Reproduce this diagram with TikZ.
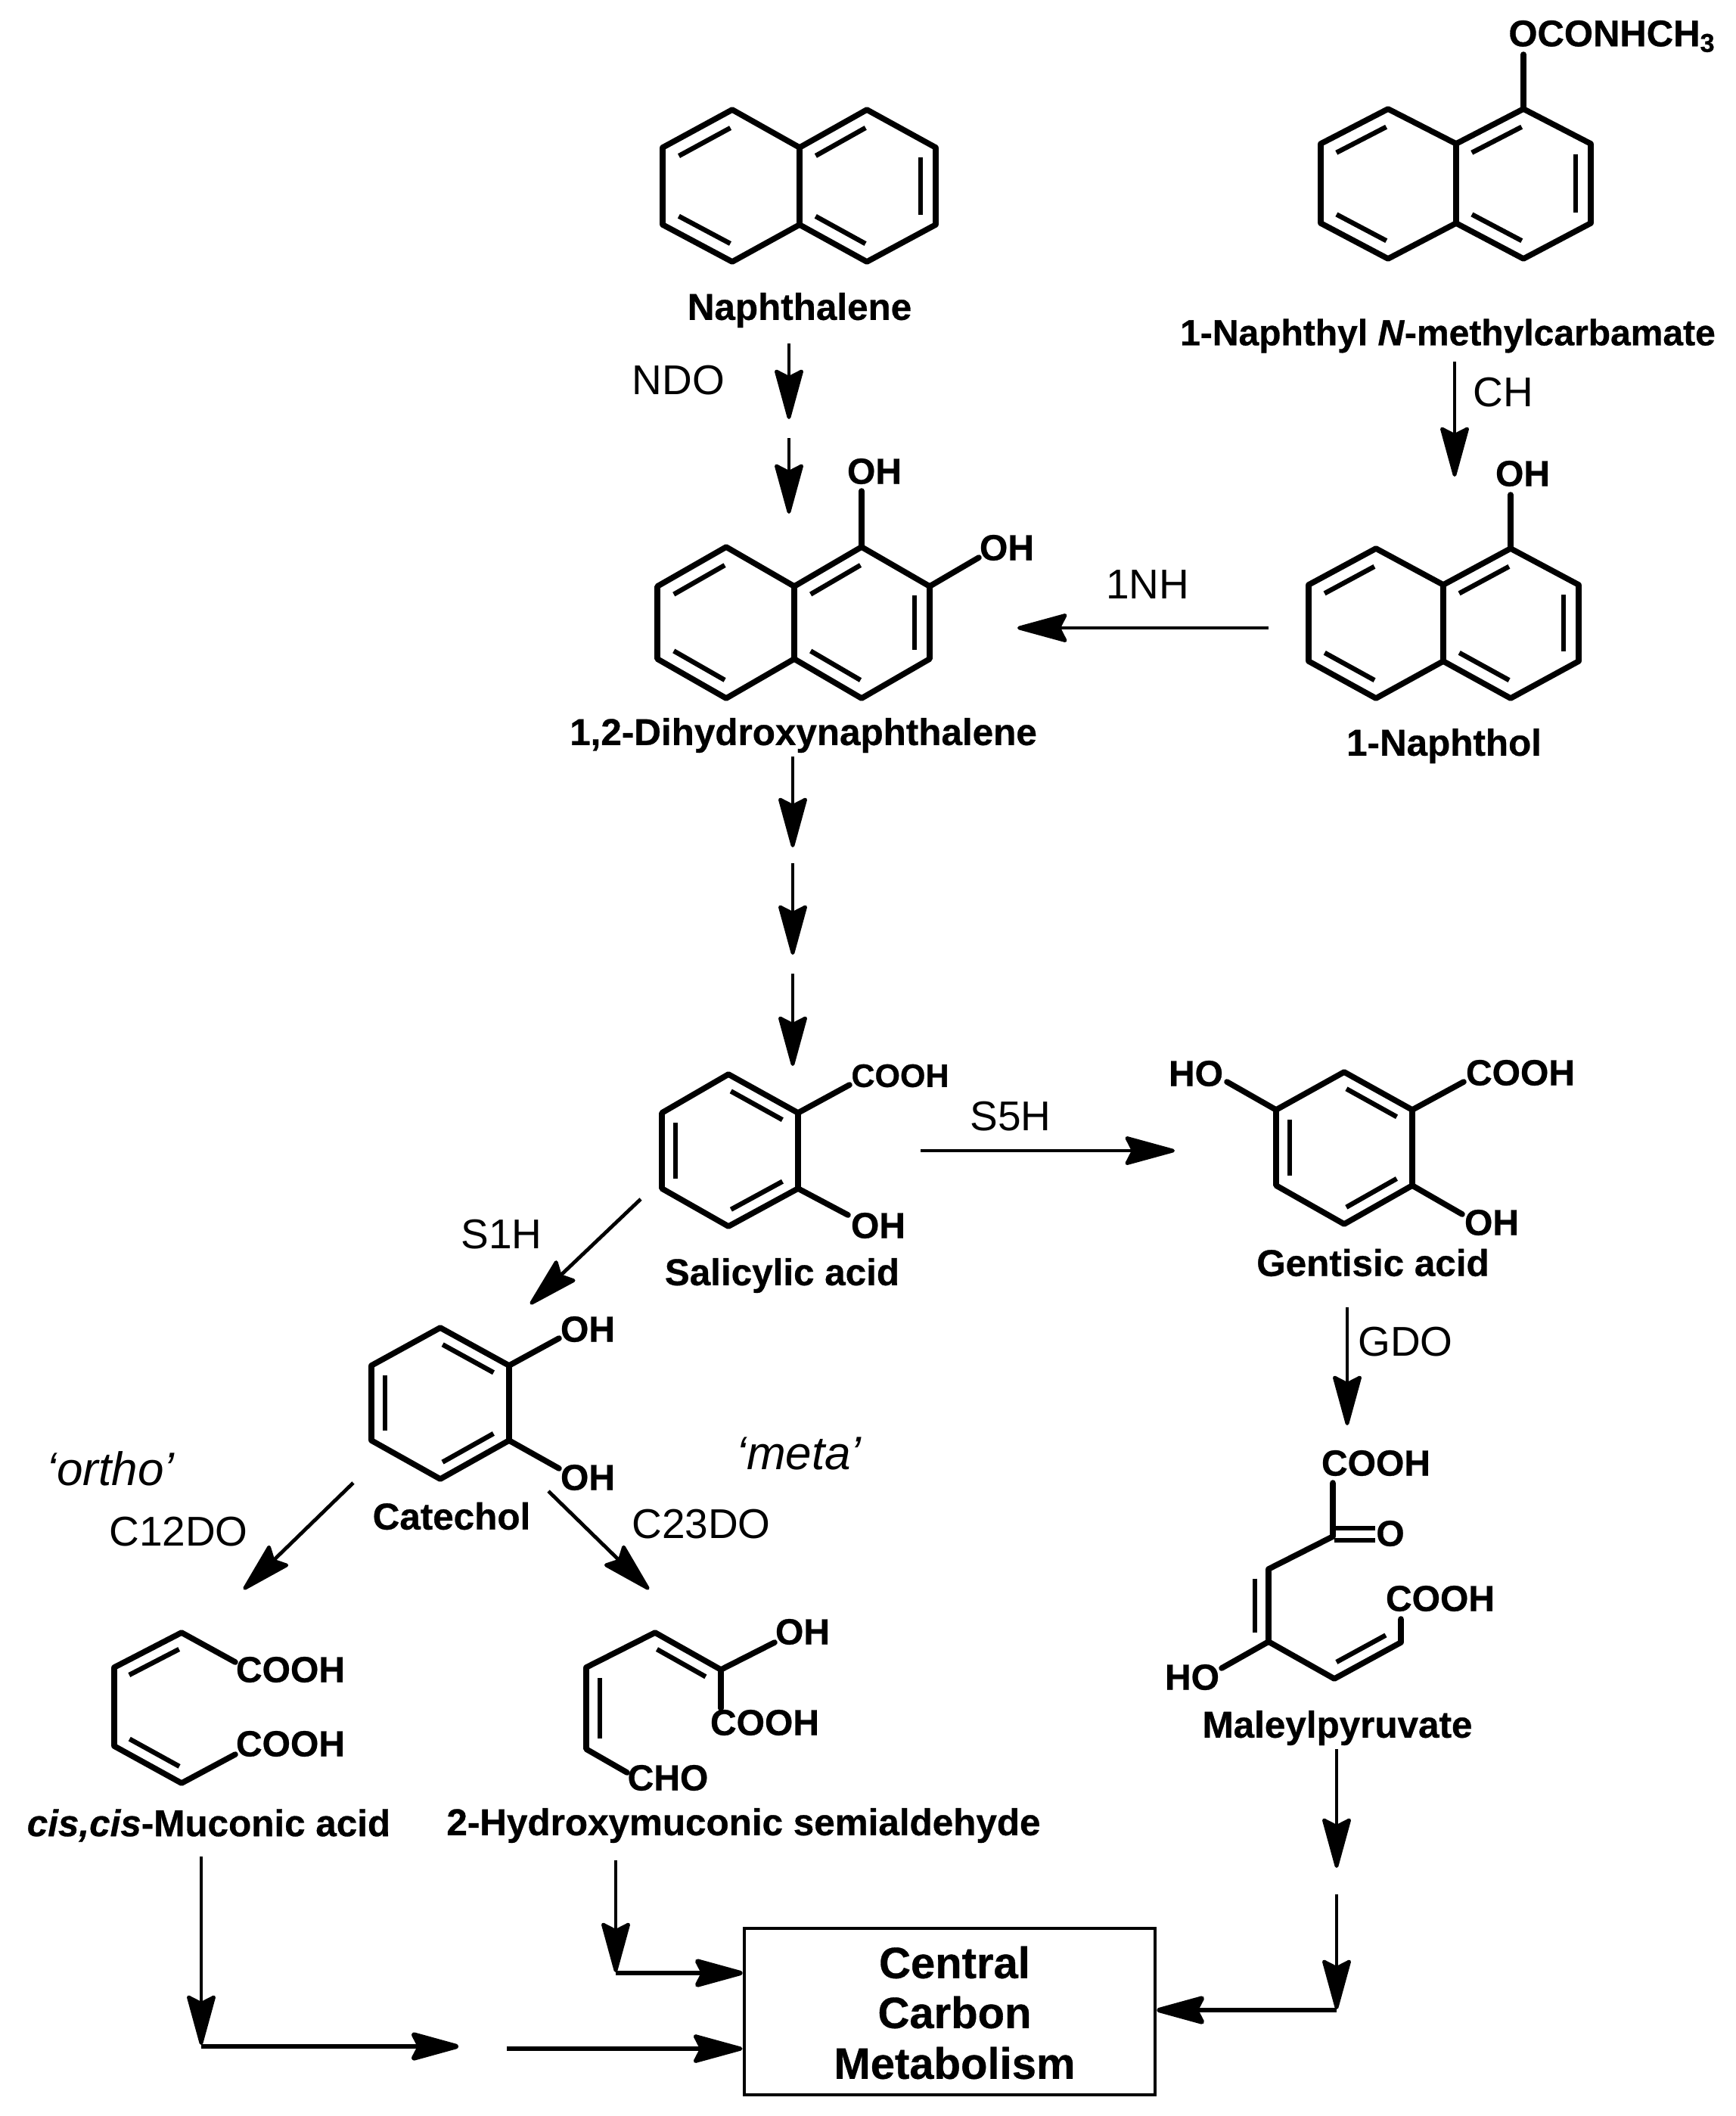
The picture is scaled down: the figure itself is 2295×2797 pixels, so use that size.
\documentclass[tikz,border=0pt]{standalone}
\usepackage{fontspec}
\setmainfont{Liberation Sans}[BoldFeatures={FakeBold=0.6},BoldItalicFeatures={FakeBold=0.6}]
\usetikzlibrary{arrows.meta,calc}
\tikzset{
  bond/.style={line width=3.8pt,line cap=round,line join=miter,black},
  ibond/.style={line width=3.2pt,line cap=butt,black},
  arr/.style={line width=2.4pt,black,-{Stealth[length=37pt,width=20pt,inset=5pt,round=false]}},
  lab/.style={inner sep=0pt,yshift=-2pt,font=\fontsize{24.7}{24.7}\selectfont\bfseries},
  labc/.style={inner sep=0pt,yshift=-2pt,font=\fontsize{24}{24}\selectfont\bfseries},
  frm/.style={inner sep=0pt,font=\fontsize{24}{24}\selectfont\bfseries},
  frms/.style={inner sep=0pt,font=\fontsize{21.5}{24}\selectfont\bfseries},
  enz/.style={inner sep=0pt,font=\fontsize{27.5}{27.5}\selectfont},
  mode/.style={inner sep=0pt,font=\fontsize{31}{31}\selectfont\itshape},
  cen/.style={inner sep=0pt,font=\fontsize{29}{29}\selectfont\bfseries},
}
% hexagon: name, x left/mid/right, y top/upper/lower/bottom
\newcommand{\hexring}[8]{%
  \coordinate (#1a) at (#2,#6);
  \coordinate (#1b) at (#3,#5);
  \coordinate (#1c) at (#4,#6);
  \coordinate (#1d) at (#4,#7);
  \coordinate (#1e) at (#3,#8);
  \coordinate (#1f) at (#2,#7);
  \draw[bond,line join=round] (#1a)--(#1b)--(#1c)--(#1d)--(#1e)--(#1f)--cycle;
}
% inner line of a double bond; third argument gives the side and offset
\newcommand{\dbl}[3]{%
  \draw[ibond] ($(#1)!.13!(#2)!#3!90:(#2)$) -- ($(#2)!.13!(#1)!#3!-90:(#1)$);
}
\begin{document}
\begin{tikzpicture}[x=0.5pt,y=-0.5pt]
\useasboundingbox (0,0) rectangle (2295,2797);
\fill[white] (0,0) rectangle (2295,2797);

% Naphthalene
\hexring{na}{876}{968}{1057}{145}{195}{297}{346}
\hexring{nb}{1057}{1146}{1237}{145}{195}{297}{346}
\dbl{naa}{nab}{-10pt}\dbl{nae}{naf}{-10pt}
\dbl{nbb}{nba}{10pt}\dbl{nbc}{nbd}{-10pt}\dbl{nbe}{nbf}{-10pt}
\node[lab] (lnaph) at (1057,406) {Naphthalene};

% Carbamate
\hexring{ca}{1746}{1835}{1925}{144}{190}{295}{342}
\hexring{cb}{1925}{2014}{2103}{144}{190}{295}{342}
\dbl{caa}{cab}{-10pt}\dbl{cae}{caf}{-10pt}
\dbl{cbb}{cba}{10pt}\dbl{cbc}{cbd}{-10pt}\dbl{cbe}{cbf}{-10pt}
\node[frm,anchor=west,font=\fontsize{24.5}{24}\selectfont\bfseries] (fcarb) at (1994,48) {OCONHCH\textsubscript{3}};
\coordinate (cbtop) at (2014,72);
\draw[bond] (cbb) -- (cbtop);
\node[labc] (lcarb) at (1914,440) {1-Naphthyl \textit{N}-methylcarbamate};

% Dihydroxynaphthalene
\hexring{da}{869}{960}{1050}{723}{775}{871}{923}
\hexring{db}{1050}{1139}{1229}{723}{775}{871}{923}
\dbl{daa}{dab}{-10pt}\dbl{dae}{daf}{-10pt}
\dbl{dbb}{dba}{10pt}\dbl{dbc}{dbd}{-10pt}\dbl{dbe}{dbf}{-10pt}
\node[frm] (foh1) at (1156,623) {OH};
\node[frm] (foh2) at (1331,724) {OH};
\coordinate (dboh1) at (1139,649);
\coordinate (dboh2) at (1294,737);
\draw[bond] (dbb) -- (dboh1);
\draw[bond] (dbc) -- (dboh2);
\node[lab] (ldihy) at (1062,968) {1,2-Dihydroxynaphthalene};

% Naphthol
\hexring{ta}{1730}{1819}{1908}{725}{773}{874}{923}
\hexring{tb}{1908}{1997}{2087}{725}{773}{874}{923}
\dbl{taa}{tab}{-10pt}\dbl{tae}{taf}{-10pt}
\dbl{tbb}{tba}{10pt}\dbl{tbc}{tbd}{-10pt}\dbl{tbe}{tbf}{-10pt}
\node[frm] (foh3) at (2013,626) {OH};
\coordinate (tboh) at (1997,654);
\draw[bond] (tbb) -- (tboh);
\node[lab] (lnol) at (1909,982) {1-Naphthol};

% Salicylic acid
\hexring{s}{875}{963}{1055}{1420}{1471}{1571}{1621}
\dbl{sb}{sc}{-9pt}\dbl{sa}{sf}{9pt}\dbl{sd}{se}{-9pt}
\node[frms] (fsc) at (1190,1422) {COOH};
\node[frm] (fso) at (1161,1620) {OH};
\coordinate (sco) at (1123,1434);
\coordinate (soh) at (1121,1606);
\draw[bond] (sc) -- (sco);
\draw[bond] (sd) -- (soh);
\node[lab] (lsal) at (1034,1682) {Salicylic acid};

% Gentisic acid
\hexring{g}{1687}{1777}{1867}{1417}{1467}{1567}{1618}
\dbl{gb}{gc}{-9pt}\dbl{ga}{gf}{9pt}\dbl{gd}{ge}{-9pt}
\node[frm] (fgho) at (1581,1419) {HO};
\node[frm] (fgc) at (2010,1418) {COOH};
\node[frm] (fgo) at (1972,1616) {OH};
\coordinate (gho) at (1622,1430);
\coordinate (gco) at (1935,1430);
\coordinate (goh) at (1933,1605);
\draw[bond] (ga) -- (gho);
\draw[bond] (gc) -- (gco);
\draw[bond] (gd) -- (goh);
\node[lab] (lgen) at (1815,1665) {Gentisic acid};

% Catechol
\hexring{k}{491}{582}{673}{1755}{1805}{1904}{1955}
\dbl{kb}{kc}{-9pt}\dbl{ka}{kf}{9pt}\dbl{kd}{ke}{-9pt}
\node[frm] (fko1) at (777,1757) {OH};
\node[frm] (fko2) at (777,1953) {OH};
\coordinate (ko1) at (739,1769);
\coordinate (ko2) at (739,1941);
\draw[bond] (kc) -- (ko1);
\draw[bond] (kd) -- (ko2);
\node[lab] (lcat) at (597,2000) {Catechol};

% cis,cis-Muconic acid
\coordinate (m1) at (311,2197);
\coordinate (m2) at (240,2158);
\coordinate (m3) at (151,2204);
\coordinate (m4) at (151,2308);
\coordinate (m5) at (240,2357);
\coordinate (m6) at (311,2319);
\draw[bond,line join=round] (m1)--(m2)--(m3)--(m4)--(m5)--(m6);
\dbl{m2}{m3}{9pt}\dbl{m4}{m5}{9pt}
\node[frm] (fmc1) at (384,2207) {COOH};
\node[frm] (fmc2) at (384,2305) {COOH};
\node[lab] (lmuc) at (276,2409) {\textit{cis,cis}-Muconic acid};

% 2-Hydroxymuconic semialdehyde
\coordinate (h1) at (829,2343);
\coordinate (h2) at (775,2312);
\coordinate (h3) at (775,2204);
\coordinate (h4) at (866,2158);
\coordinate (h5) at (953,2207);
\coordinate (h6) at (1024,2171);
\coordinate (h7) at (953,2258);
\draw[bond,line join=round] (h1)--(h2)--(h3)--(h4)--(h5)--(h6);
\draw[bond] (h5)--(h7);
\dbl{h2}{h3}{-9pt}\dbl{h4}{h5}{-9pt}
\node[frm] (fho) at (1061,2157) {OH};
\node[frm] (fhc) at (1011,2277) {COOH};
\node[frm] (fhd) at (883,2350) {CHO};
\node[lab] (lhyd) at (983,2409) {2-Hydroxymuconic semialdehyde};

% Maleylpyruvate
\coordinate (p1) at (1762,1960);
\coordinate (p2) at (1762,2031);
\coordinate (p3) at (1677,2074);
\coordinate (p4) at (1677,2170);
\coordinate (p5) at (1764,2219);
\coordinate (p6) at (1852,2171);
\coordinate (p7) at (1852,2140);
\coordinate (p8) at (1615,2205);
\coordinate (p9) at (1818,2020);
\coordinate (p10) at (1818,2036);
\coordinate (p11) at (1764,2020);
\coordinate (p12) at (1764,2036);
\draw[bond,line join=round] (p1)--(p2)--(p3)--(p4)--(p5)--(p6)--(p7);
\draw[bond] (p4)--(p8);
\draw[ibond] (p11)--(p9);
\draw[ibond] (p12)--(p10);
\dbl{p3}{p4}{-9pt}\dbl{p5}{p6}{9pt}
\node[frm] (fpc1) at (1819,1934) {COOH};
\node[frm] (fpo) at (1838,2027) {O};
\node[frm] (fpc2) at (1904,2113) {COOH};
\node[frm] (fpho) at (1576,2217) {HO};
\node[lab] (lmal) at (1768,2280) {Maleylpyruvate};

% Box
\node[draw=black,line width=2.4pt,minimum width=271.5pt,minimum height=110pt,inner sep=0pt] (ccm) at (1255.5,2659) {};
\node[cen] (cen1) at (1262,2594) {Central};
\node[cen] (cen2) at (1262,2660) {Carbon};
\node[cen] (cen3) at (1262,2727) {Metabolism};

% Enzyme labels
\node[enz] (endo) at (897,503) {NDO};
\node[enz] (ech) at (1987,519) {CH};
\node[enz] (e1nh) at (1517,773) {1NH};
\node[enz] (es5h) at (1336,1476) {S5H};
\node[enz] (es1h) at (663,1632) {S1H};
\node[enz] (egdo) at (1858,1774) {GDO};
\node[enz] (ec12) at (236,2025) {C12DO};
\node[enz] (ec23) at (927,2015) {C23DO};
\node[mode] (mort) at (146,1941) {‘ortho’};
\node[mode] (mmet) at (1056,1921) {‘meta’};

% Arrow end points
\coordinate (a1) at (1043,454); \coordinate (a2) at (1043,554);
\coordinate (a3) at (1043,579); \coordinate (a4) at (1043,679);
\coordinate (a5) at (1923,478); \coordinate (a6) at (1923,630);
\coordinate (a7) at (1677,830); \coordinate (a8) at (1345,830);
\coordinate (a9) at (1048,1000); \coordinate (a10) at (1048,1120);
\coordinate (a11) at (1048,1141); \coordinate (a12) at (1048,1262);
\coordinate (a13) at (1048,1287); \coordinate (a14) at (1048,1409);
\coordinate (a15) at (1217,1521); \coordinate (a16) at (1553,1521);
\coordinate (a17) at (847,1585); \coordinate (a18) at (701,1724);
\coordinate (a19) at (1781,1728); \coordinate (a20) at (1781,1884);
\coordinate (a21) at (467,1960); \coordinate (a22) at (322,2101);
\coordinate (a23) at (725,1971); \coordinate (a24) at (858,2101);
\coordinate (b1) at (266,2454); \coordinate (b2) at (266,2703);
\coordinate (b3) at (266,2705); \coordinate (b4) at (606,2705);
\coordinate (b5) at (670,2708);
\coordinate (b6) at (814,2459); \coordinate (b7) at (814,2607);
\coordinate (b8) at (814,2608);
\coordinate (b9) at (1767,2312); \coordinate (b10) at (1767,2469);
\coordinate (b11) at (1767,2504); \coordinate (b12) at (1767,2656);
\coordinate (b13) at (1767,2657);

\foreach \s/\e in {a1/a2,a3/a4,a5/a6,a7/a8,a9/a10,a11/a12,a13/a14,a15/a16,a17/a18,a19/a20,a21/a22,a23/a24,b1/b2,b6/b7,b9/b10,b11/b12}
  \draw[arr] (\s) -- (\e);
\draw[arr,line width=3.4pt] (b3) -- (b4);
\draw[arr,line width=2.6pt] (b5) -- (b5 -| ccm.west);
\draw[arr,line width=3.2pt] (b8) -- (b8 -| ccm.west);
\draw[arr,line width=3.2pt] (b13) -- (b13 -| ccm.east);
\end{tikzpicture}
\end{document}
